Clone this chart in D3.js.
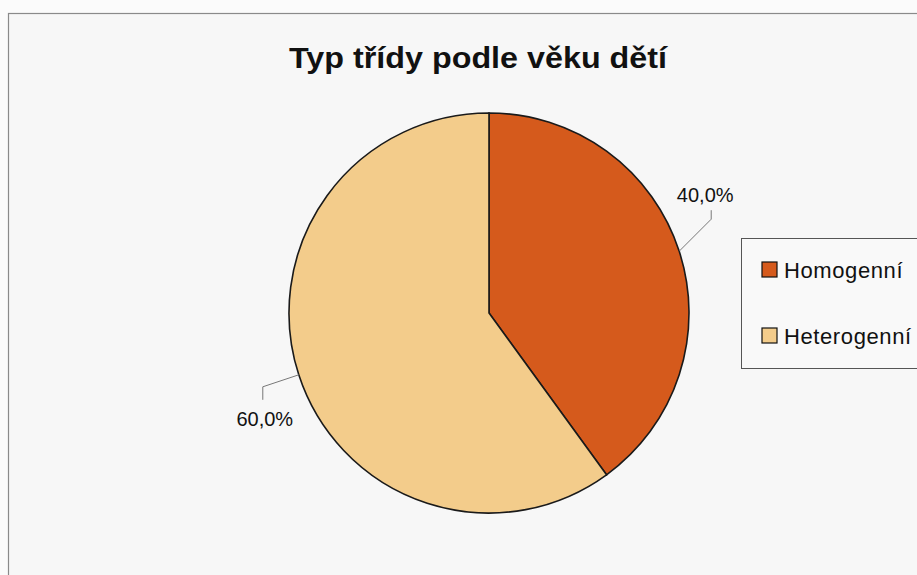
<!DOCTYPE html>
<html lang="cs">
    <head>
        <meta charset="utf-8">
        <title>Typ třídy podle věku dětí</title>
        <script src="https://d3js.org/d3.v7.min.js"></script>
        <style>
            body { margin: 0; background: #fbfbfb; }
            text { font-family: "Liberation Sans", Arial, sans-serif; fill: #111; }
        </style>
    </head>
    <body>
        <div class="chart"></div>
        <script type="text/javascript">
            // data
            var categories = ["Homogenní", "Heterogenní"];
            var values = [40.0, 60.0];
            var colors = ["#d55a1c", "#f3cc8b"];

            var w = 917, h = 575;
            var svg = d3.select("div.chart")
                        .append("svg")
                        .attr("width", w)
                        .attr("height", h);

            // chart area frame
            svg.append("rect")
                .attr("x", 8.5).attr("y", 13.5)
                .attr("width", w + 20).attr("height", h + 20)
                .attr("fill", "#f7f7f7")
                .attr("stroke", "#8a8a8a")
                .attr("stroke-width", 1.2);

            // title, narrow like the original
            svg.append("text")
                .attr("x", 478)
                .attr("y", 68)
                .attr("text-anchor", "middle")
                .attr("font-size", 29)
                .attr("font-weight", "bold")
                .attr("textLength", 378)
                .attr("lengthAdjust", "spacingAndGlyphs")
                .text("Typ třídy podle věku dětí");

            var cx = 489, cy = 313, r = 200;
            var pie = d3.pie().sort(null).value(function(d) { return d; });
            var arc = d3.arc().innerRadius(0).outerRadius(r);
            var arcs = pie(values);

            var g = svg.append("g")
                       .attr("transform", "translate(" + cx + "," + cy + ")");

            g.selectAll("path.slice")
                .data(arcs)
                .enter()
                .append("path")
                .attr("class", "slice")
                .attr("d", arc)
                .attr("fill", function(d, i) { return colors[i]; })
                .attr("stroke", "#1a1a1a")
                .attr("stroke-width", 1.6);

            // leader lines + labels
            var fmt = function(v) { return v.toFixed(1).replace(".", ",") + "%"; };
            var leaders = [
                {dx: 32, dy: -32, vy: -9, tx: -6, ty: -17},
                {dx: -36, dy: 12, vy: 13, tx: 2, ty: 39}
            ];
            arcs.forEach(function(d, i) {
                var mid = (d.startAngle + d.endAngle) / 2;
                var p0 = [Math.sin(mid) * r, -Math.cos(mid) * r];
                var L = leaders[i];
                var p1 = [p0[0] + L.dx, p0[1] + L.dy];
                var p2 = [p1[0], p1[1] + L.vy];
                g.append("polyline")
                    .attr("points", [p0, p1, p2].map(function(p) { return p.join(","); }).join(" "))
                    .attr("fill", "none")
                    .attr("stroke", "#777")
                    .attr("stroke-width", 1);
                g.append("text")
                    .attr("x", p1[0] + L.tx)
                    .attr("y", p1[1] + L.ty)
                    .attr("text-anchor", "middle")
                    .attr("font-size", 20)
                    .attr("fill", "#222")
                    .text(fmt(d.data));
            });

            // legend
            var legend = svg.append("g").attr("transform", "translate(741,238)");
            legend.append("rect")
                .attr("x", 0.5).attr("y", 0.5)
                .attr("width", 200).attr("height", 130)
                .attr("fill", "#f9f9f9")
                .attr("stroke", "#555")
                .attr("stroke-width", 1);
            var items = legend.selectAll("g.item")
                .data(categories)
                .enter()
                .append("g")
                .attr("class", "item")
                .attr("transform", function(d, i) { return "translate(21," + (24 + i * 66) + ")"; });
            items.append("rect")
                .attr("width", 15).attr("height", 15)
                .attr("fill", function(d, i) { return colors[i]; })
                .attr("stroke", "#111")
                .attr("stroke-width", 1.2);
            items.append("text")
                .attr("x", 22)
                .attr("y", 16)
                .attr("font-size", 22)
                .attr("letter-spacing", 0.6)
                .text(function(d) { return d; });
        </script>
    </body>
</html>
